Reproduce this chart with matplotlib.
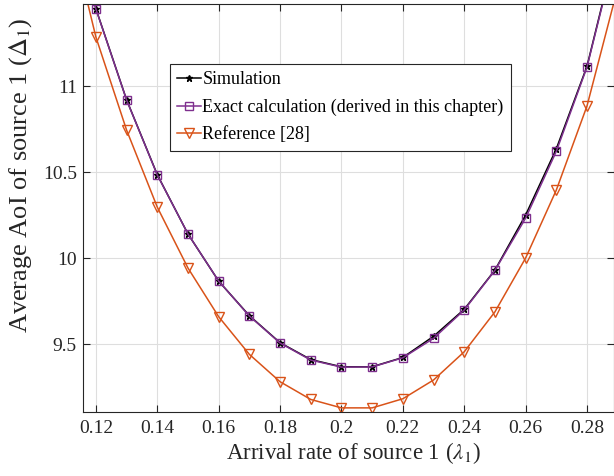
import numpy as np
import matplotlib
matplotlib.use('Agg')
import matplotlib.pyplot as plt

plt.rcParams['font.family'] = ['Liberation Serif', 'DejaVu Serif']
plt.rcParams['mathtext.fontset'] = 'stix'

# data (first and last points lie outside the visible range)
lam = [0.11, 0.12, 0.13, 0.14, 0.15, 0.16, 0.17, 0.18, 0.19, 0.20,
       0.21, 0.22, 0.23, 0.24, 0.25, 0.26, 0.27, 0.28, 0.29]
sim = [12.15, 11.45, 10.92, 10.485, 10.14, 9.866, 9.665, 9.508, 9.41, 9.368,
       9.368, 9.422, 9.545, 9.702, 9.93, 10.25, 10.635, 11.115, 11.84]
exact = [12.15, 11.448, 10.919, 10.483, 10.14, 9.866, 9.663, 9.506, 9.407, 9.366,
         9.367, 9.42, 9.533, 9.698, 9.928, 10.232, 10.62, 11.11, 11.83]
ref = [12.02, 11.285, 10.744, 10.296, 9.942, 9.659, 9.44, 9.281, 9.178, 9.129,
       9.129, 9.182, 9.291, 9.455, 9.687, 10.0, 10.395, 10.884, 11.57]

purple = '#7E2F8E'
orange = '#D95319'
axcol = '#262626'

fig = plt.figure(figsize=(6.14, 4.76), dpi=100)
ax = fig.add_axes([83/614, 1-412/476, 531/614, 408/476])

ax.plot(lam, sim, '-*', color='k', lw=1.1, ms=5, label='Simulation')
ax.plot(lam, exact, '-s', color=purple, lw=1.1, ms=5.5, mfc='none', mew=1.0,
        label='Exact calculation (derived in this chapter)')
ax.plot(lam, ref, '-v', color=orange, lw=1.1, ms=7, mfc='none', mew=1.0,
        label='Reference [28]')

ax.set_xlim(0.1158, 0.2888)
ax.set_ylim(9.105, 11.477)
ax.set_xticks(np.arange(0.12, 0.285, 0.02))
ax.set_xticklabels(['0.12', '0.14', '0.16', '0.18', '0.2', '0.22', '0.24', '0.26', '0.28'])
ax.set_yticks([9.5, 10, 10.5, 11])
ax.set_yticklabels(['9.5', '10', '10.5', '11'])
ax.grid(True, color='#dedede', lw=0.8)
ax.set_axisbelow(True)
ax.tick_params(direction='in', top=True, right=True, length=5, width=0.8,
               labelsize=14, colors=axcol, labelcolor=axcol)
ax.tick_params(axis='x', pad=6)
ax.tick_params(axis='y', pad=4.5)
for s in ax.spines.values():
    s.set_color(axcol)
    s.set_linewidth(0.8)

ax.set_xlabel(r'Arrival rate of source 1 ($\lambda_1$)', fontsize=16.5, color=axcol)
ax.set_ylabel(r'Average AoI of source 1 ($\Delta_1$)', fontsize=19, color=axcol)
ax.xaxis.set_label_coords(0.509, -0.068)
ax.yaxis.set_label_coords(-0.092, 0.581)

leg = ax.legend(loc='upper left', bbox_to_anchor=(170/614, 1-64/476),
                bbox_transform=fig.transFigure, fontsize=13, fancybox=False,
                framealpha=1, edgecolor=axcol, handlelength=1.3,
                handletextpad=0.1, borderpad=0.4, labelspacing=0.58,
                borderaxespad=0)
leg.get_frame().set_linewidth(0.8)

fig.savefig('out.png', dpi=100)
